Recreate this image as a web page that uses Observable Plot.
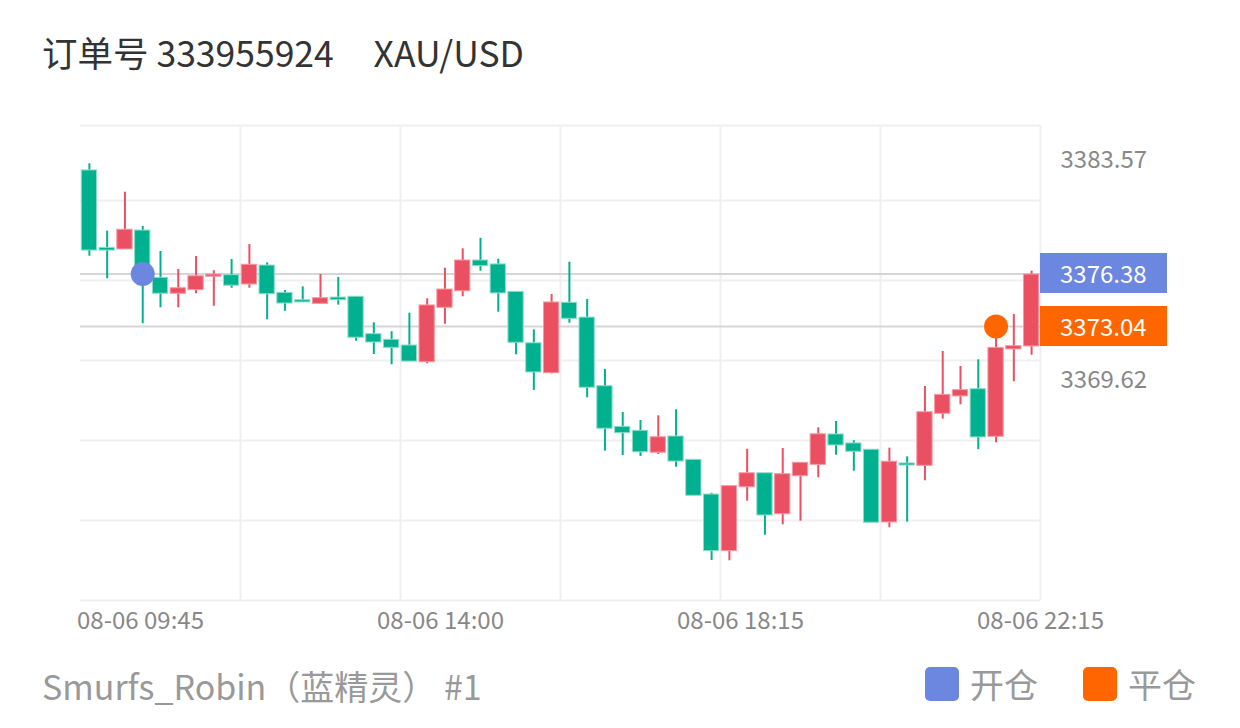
<!DOCTYPE html>
<html>
<head>
<meta charset="utf-8">
<script src="https://cdn.jsdelivr.net/npm/d3@7"></script>
<script src="https://cdn.jsdelivr.net/npm/@observablehq/plot@0.6"></script>
<style>
  html, body { margin: 0; padding: 0; background: #fff; }
  body { width: 1240px; height: 728px; position: relative; overflow: hidden; font-family: "Noto Sans CJK SC", "Noto Sans", sans-serif; }
  #title { position: absolute; left: 42px; top: 32px; font-size: 35.5px; line-height: 40px; color: #333; white-space: pre; }
  #chart { position: absolute; left: 0; top: 100px; }
  #footer { position: absolute; left: 42px; top: 666px; font-size: 34px; line-height: 40px; color: #999; white-space: pre; }
  .legend { position: absolute; top: 664px; display: flex; align-items: center; font-size: 34px; line-height: 40px; color: #999; }
  .legend .sw { width: 34px; height: 34px; border-radius: 5px; margin-right: 11px; }
  .pbox { position: absolute; left: 1040px; width: 127px; height: 40px; color: #fff; font-size: 24px; line-height: 40px; padding-left: 20px; box-sizing: border-box; }
</style>
</head>
<body>
<div id="title">订单号 333955924     XAU/USD</div>
<div id="chart"></div>
<div id="footer">Smurfs_Robin（蓝精灵） #1</div>
<div class="legend" style="left:925px"><div class="sw" style="background:#6b87e0"></div>开仓</div>
<div class="legend" style="left:1083px"><div class="sw" style="background:#ff6600"></div>平仓</div>
<script>
// ---- data (15-minute candles, index 0..53) ----
const open = [3382.94, 3378.03, 3377.93, 3379.13, 3376.13, 3375.12, 3375.35, 3376.20, 3376.30, 3375.71,
  3376.91, 3375.18, 3374.71, 3374.48, 3374.88, 3374.93, 3372.56, 3372.20, 3371.84, 3370.78,
  3374.23, 3375.28, 3377.23, 3376.98, 3375.24, 3371.98, 3370.08, 3374.55, 3373.61, 3369.26,
  3366.68, 3366.43, 3365.04, 3366.07, 3364.59, 3362.39, 3358.80, 3362.85, 3363.74, 3361.14,
  3363.55, 3364.27, 3366.20, 3365.63, 3365.23, 3360.62, 3364.36, 3364.21, 3367.51, 3368.61,
  3369.07, 3366.05, 3371.59, 3371.78];
const high = [3383.36, 3379.09, 3381.56, 3379.39, 3377.80, 3376.66, 3377.48, 3376.58, 3377.29, 3378.24,
  3377.08, 3375.33, 3375.56, 3376.34, 3376.15, 3374.95, 3373.28, 3372.71, 3373.89, 3374.80,
  3376.74, 3377.97, 3378.64, 3377.31, 3375.24, 3372.83, 3375.07, 3377.12, 3374.76, 3370.32,
  3367.59, 3367.08, 3367.38, 3367.76, 3364.59, 3362.47, 3362.92, 3365.26, 3363.74, 3365.31,
  3364.40, 3366.62, 3367.02, 3365.80, 3365.23, 3365.33, 3364.78, 3369.24, 3371.46, 3370.51,
  3370.93, 3372.79, 3373.81, 3376.55];
const low = [3377.50, 3376.07, 3377.93, 3373.22, 3374.23, 3374.23, 3375.12, 3374.33, 3375.47, 3375.47,
  3373.47, 3374.01, 3374.57, 3374.44, 3374.40, 3372.11, 3371.27, 3370.62, 3370.82, 3370.68,
  3373.19, 3374.93, 3376.55, 3373.95, 3371.25, 3368.99, 3370.04, 3373.25, 3368.52, 3365.14,
  3364.86, 3364.80, 3364.93, 3364.12, 3362.31, 3358.21, 3358.19, 3361.97, 3359.81, 3360.47,
  3360.70, 3363.45, 3364.88, 3363.87, 3360.60, 3360.28, 3360.64, 3363.26, 3367.17, 3368.08,
  3365.23, 3365.67, 3369.54, 3371.22];
const close = [3377.86, 3377.86, 3379.18, 3376.40, 3375.12, 3375.47, 3376.23, 3376.34, 3375.63, 3376.96,
  3375.09, 3374.50, 3374.57, 3374.84, 3374.71, 3372.33, 3372.03, 3371.69, 3370.82, 3374.38,
  3375.39, 3377.23, 3376.87, 3375.14, 3372.01, 3370.13, 3374.57, 3373.53, 3369.16, 3366.56,
  3366.28, 3365.07, 3366.02, 3364.48, 3362.31, 3358.80, 3362.92, 3363.74, 3361.06, 3363.68,
  3364.40, 3366.21, 3365.50, 3365.10, 3360.60, 3364.47, 3364.23, 3367.61, 3368.71, 3369.01,
  3366.01, 3371.69, 3371.80, 3376.34];

const xTickPos = [2.875, 19.75, 36.625, 53.5];
const xTickLabels = ["08-06 09:45", "08-06 14:00", "08-06 18:15", "08-06 22:15"];
const xGrid = [8.5, 17.5, 26.5, 35.5, 44.5, 53.5];
const yTicks = [3383.57, 3369.62];
const yGrid = [3385.79, 3381.03, 3375.96, 3370.89, 3365.82, 3360.75, 3355.67];
const yDomain = [3355.67, 3385.79];

const openTrade = {i: 3, price: 3376.38, label: "开仓"};
const closeTrade = {i: 51, price: 3373.04, label: "平仓"};

const UP = "#eb4f62", DOWN = "#00b18f";
const UP_EDGE = "#f59aa4", DOWN_EDGE = "#8fdcc9";

const candles = open.map((o, i) => ({
  i, open: o, high: high[i], low: low[i], close: close[i], up: close[i] > o
}));

const HALF = 0.43;
const chart = Plot.plot({
  width: 1240,
  height: 540,
  marginTop: 25,
  marginBottom: 40,
  marginLeft: 80,
  marginRight: 200,
  style: {fontFamily: "'Noto Sans CJK SC', 'Noto Sans', sans-serif", background: "#fff", overflow: "visible"},
  x: {domain: [-0.5, 53.5], label: null},
  y: {domain: yDomain, label: null},
  marks: [
    Plot.ruleY(yGrid, {stroke: "#f0f0f0", strokeWidth: 2}),
    Plot.ruleX(xGrid, {stroke: "#f0f0f0", strokeWidth: 2}),
    Plot.ruleY([openTrade.price, closeTrade.price], {stroke: "#d6d6da", strokeWidth: 2}),
    Plot.ruleX(candles, {x: "i", y1: "low", y2: "high", stroke: d => d.up ? UP : DOWN, strokeWidth: 2}),
    Plot.rect(candles, {
      x1: d => d.i - HALF, x2: d => d.i + HALF,
      y1: d => Math.min(d.open, d.close), y2: d => Math.max(d.open, d.close),
      fill: d => d.up ? UP : DOWN,
      stroke: d => d.up ? UP_EDGE : DOWN_EDGE, strokeWidth: 1
    }),
    Plot.dot([openTrade], {x: "i", y: "price", r: 12, fill: "#6b87e0"}),
    Plot.dot([closeTrade], {x: "i", y: "price", r: 12, fill: "#ff6600"}),
    Plot.axisX(xTickPos, {
      tickSize: 0, tickPadding: 11, label: null,
      tickFormat: d => xTickLabels[xTickPos.indexOf(d)],
      fontSize: 24, fill: "#888"
    }),
    Plot.axisY(yTicks, {
      anchor: "right", tickSize: 0, tickPadding: 20, label: null,
      tickFormat: d => d.toFixed(2),
      fontSize: 24, fill: "#888"
    })
  ]
});
document.getElementById("chart").appendChild(chart);

// price tags on the right edge, positioned via the chart's y scale
const ys = chart.scale("y");
[[openTrade.price, "#6b87e0"], [closeTrade.price, "#ff6600"]].forEach(([p, c]) => {
  const div = document.createElement("div");
  div.className = "pbox";
  div.style.background = c;
  div.style.top = (100 + ys.apply(p) - 20) + "px";
  div.textContent = p.toFixed(2);
  document.body.appendChild(div);
});
</script>
</body>
</html>
